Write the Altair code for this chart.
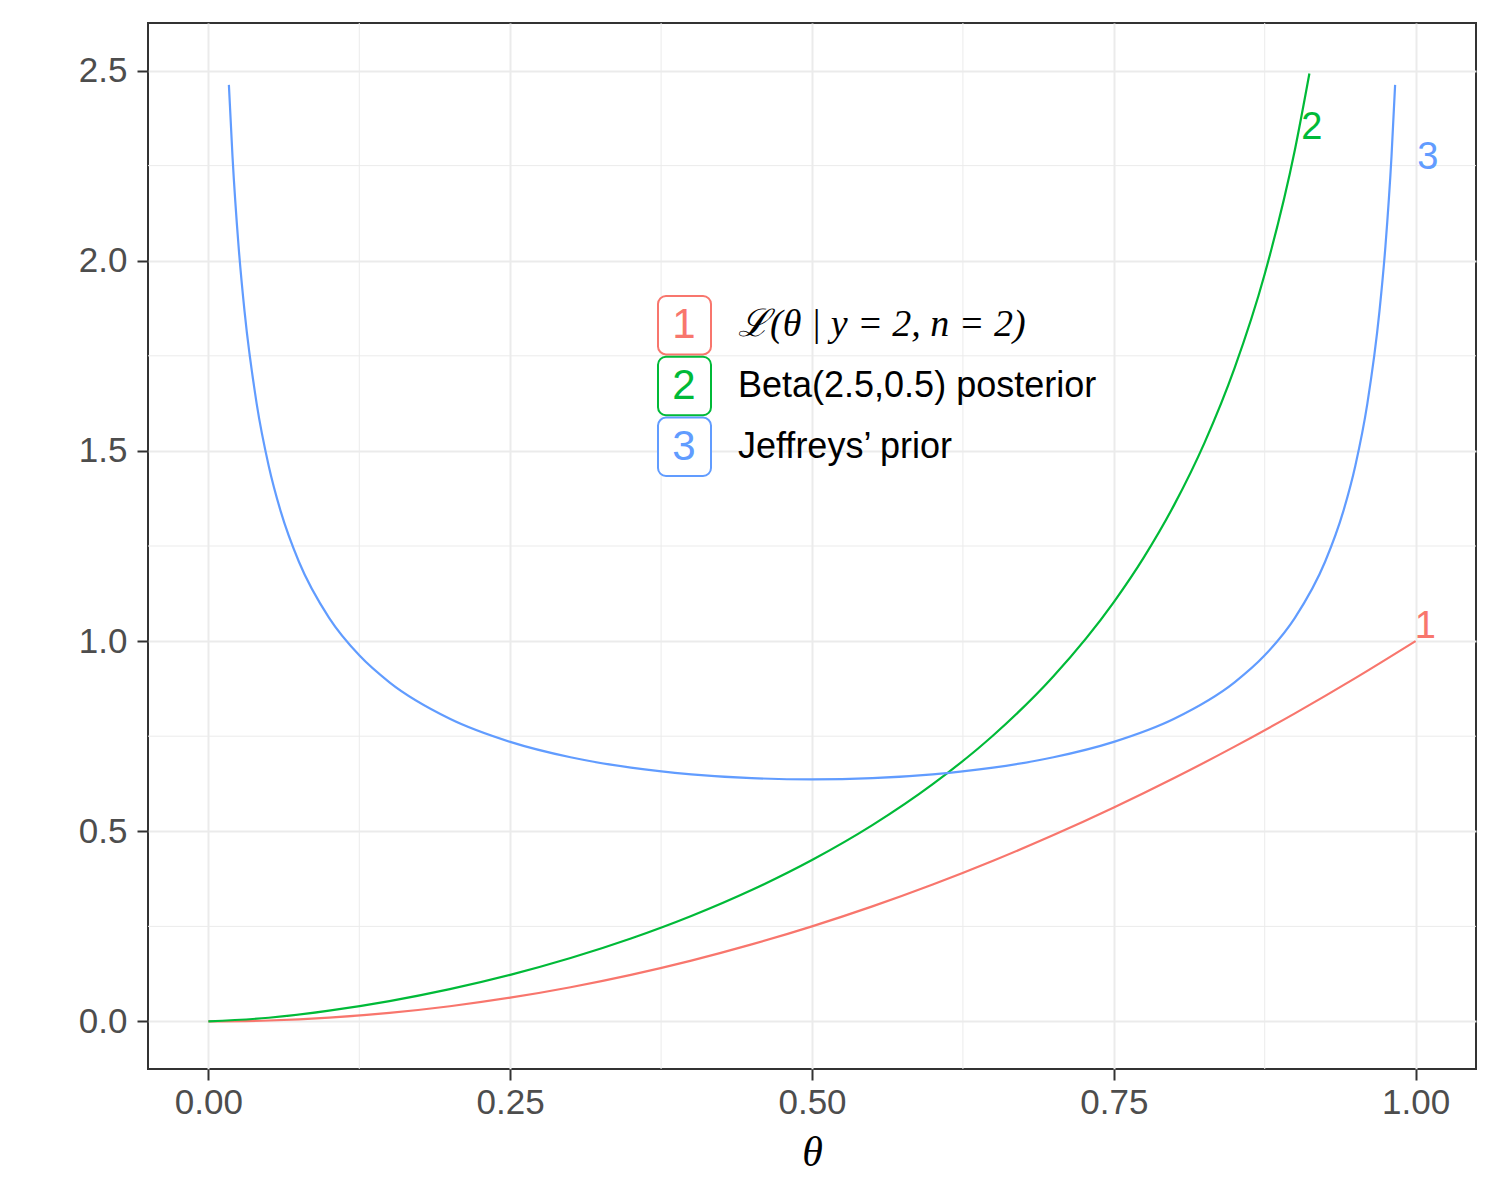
import altair as alt
import pandas as pd

# ---- data ----
lik_theta = [0.0, 0.05, 0.1, 0.15, 0.2, 0.25, 0.3, 0.35, 0.4, 0.45, 0.5,
             0.55, 0.6, 0.65, 0.7, 0.75, 0.8, 0.85, 0.9, 0.95, 1.0]
lik_value = [0.0, 0.0025, 0.01, 0.0225, 0.04, 0.0625, 0.09, 0.1225, 0.16, 0.2025, 0.25,
             0.3025, 0.36, 0.4225, 0.49, 0.5625, 0.64, 0.7225, 0.81, 0.9025, 1.0]

post_theta = [0.0, 0.05, 0.1, 0.15, 0.2, 0.25, 0.3, 0.35, 0.4, 0.45, 0.5, 0.55, 0.6,
              0.65, 0.7, 0.75, 0.775, 0.8, 0.825, 0.85, 0.875, 0.9, 0.912]
post_value = [0.0, 0.0097, 0.0283, 0.0535, 0.0849, 0.1225, 0.1667, 0.2180, 0.2772,
              0.3455, 0.4244, 0.5161, 0.6238, 0.7519, 0.9076, 1.1027, 1.2209, 1.3581,
              1.5205, 1.7175, 1.9651, 2.2918, 2.4921]

jef_theta = [0.017, 0.02, 0.025, 0.03, 0.04, 0.05, 0.06, 0.075, 0.1, 0.125, 0.15, 0.2,
             0.25, 0.3, 0.35, 0.4, 0.45, 0.5, 0.55, 0.6, 0.65, 0.7, 0.75, 0.8, 0.85,
             0.875, 0.9, 0.925, 0.94, 0.95, 0.96, 0.97, 0.975, 0.98, 0.983]
jef_value = [2.4624, 2.2736, 2.0388, 1.8660, 1.6244, 1.4605, 1.3403, 1.2085, 1.0610,
             0.9625, 0.8915, 0.7958, 0.7351, 0.6946, 0.6674, 0.6498, 0.6398, 0.6366,
             0.6398, 0.6498, 0.6674, 0.6946, 0.7351, 0.7958, 0.8915, 0.9625, 1.0610,
             1.2085, 1.3403, 1.4605, 1.6244, 1.8660, 2.0388, 2.2736, 2.4624]

keys = ["1", "2", "3"]
legend_labels = ["\u2112(\u03b8 | y = 2, n = 2)", "Beta(2.5,0.5) posterior", "Jeffreys\u2019 prior"]
colors = ["#F8766D", "#00BA38", "#619CFF"]

end_label_x = [1.008, 0.914, 1.010]
end_label_y = [1.037, 2.350, 2.270]

x_major = [0.0, 0.25, 0.5, 0.75, 1.0]
x_minor = [0.125, 0.375, 0.625, 0.875]
y_major = [0.0, 0.5, 1.0, 1.5, 2.0, 2.5]
y_minor = [0.25, 0.75, 1.25, 1.75, 2.25]

# ---- tables ----
curves = pd.concat([
    pd.DataFrame({"theta": lik_theta, "value": lik_value, "key": "1"}),
    pd.DataFrame({"theta": post_theta, "value": post_value, "key": "2"}),
    pd.DataFrame({"theta": jef_theta, "value": jef_value, "key": "3"}),
], ignore_index=True)
ends = pd.DataFrame({"theta": end_label_x, "value": end_label_y, "key": keys})
leg = pd.DataFrame({"key": keys, "label": legend_labels})
leg_plain = leg.iloc[1:].reset_index(drop=True)
leg_math = leg.iloc[:1].reset_index(drop=True)
xminor_df = pd.DataFrame({"v": x_minor})
yminor_df = pd.DataFrame({"v": y_minor})

xscale = alt.Scale(domain=[-0.05, 1.05], nice=False, zero=False)
yscale = alt.Scale(domain=[-0.125, 2.625], nice=False, zero=False)
cscale = alt.Scale(domain=keys, range=colors)

GRID = "#EBEBEB"

xaxis = alt.Axis(values=x_major, format=".2f", title="\u03b8", grid=True,
                 gridColor=GRID, gridWidth=2, tickColor="#333333", tickWidth=2,
                 tickSize=11, labelPadding=5, labelFontSize=35, labelColor="#4D4D4D",
                 labelFont="Liberation Sans", domain=False, titleFont="Liberation Serif",
                 titleFontStyle="italic", titleFontWeight="normal", titleFontSize=42,
                 titleColor="#000000", titlePadding=12)
yaxis = alt.Axis(values=y_major, format=".1f", title=None, grid=True,
                 gridColor=GRID, gridWidth=2, tickColor="#333333", tickWidth=2,
                 tickSize=11, labelPadding=10, labelFontSize=35, labelColor="#4D4D4D",
                 labelFont="Liberation Sans", domain=False)

xminor = alt.Chart(xminor_df).mark_rule(color=GRID, strokeWidth=1).encode(
    x=alt.X("v:Q", scale=xscale, axis=xaxis))
yminor = alt.Chart(yminor_df).mark_rule(color=GRID, strokeWidth=1).encode(
    y=alt.Y("v:Q", scale=yscale, axis=yaxis))

lines = alt.Chart(curves).mark_line(strokeWidth=2.2, interpolate="monotone").encode(
    x=alt.X("theta:Q", scale=xscale, axis=xaxis),
    y=alt.Y("value:Q", scale=yscale, axis=yaxis),
    color=alt.Color("key:N", scale=cscale, legend=None),
    detail="key:N",
)

end_text = alt.Chart(ends).mark_text(fontSize=38, font="Liberation Sans",
                                     align="center", baseline="middle").encode(
    x=alt.X("theta:Q", scale=xscale, axis=xaxis),
    y=alt.Y("value:Q", scale=yscale, axis=yaxis),
    color=alt.Color("key:N", scale=cscale, legend=None),
    text="key:N",
)

main = alt.layer(xminor, yminor, lines, end_text)

# legend drawn inside the panel
band_y = alt.Y("key:N", scale=alt.Scale(domain=keys, range=[273, 453],
                                         paddingInner=0.04, paddingOuter=0), axis=None)
leg_box = alt.Chart(leg).mark_rect(fill="white", strokeWidth=2, cornerRadius=8).encode(
    x=alt.value(510), x2=alt.value(563), y=band_y,
    stroke=alt.Color("key:N", scale=cscale, legend=None),
)
leg_digit = alt.Chart(leg).mark_text(fontSize=42, font="Liberation Sans",
                                     baseline="middle", align="center").encode(
    x=alt.value(536), y=band_y,
    color=alt.Color("key:N", scale=cscale, legend=None),
    text="key:N",
)
leg_label = alt.Chart(leg_plain).mark_text(fontSize=36, font="Liberation Sans",
                                           baseline="middle", align="left", color="black").encode(
    x=alt.value(590), y=band_y,
    text="label:N",
)
leg_label_math = alt.Chart(leg_math).mark_text(fontSize=38, font="Liberation Serif",
                                               fontStyle="italic", baseline="middle",
                                               align="left", color="black").encode(
    x=alt.value(590), y=band_y,
    text="label:N",
)
legend = alt.layer(leg_box, leg_digit, leg_label, leg_label_math)

chart = alt.layer(main, legend).resolve_scale(y="independent").properties(
    width=1328, height=1046, background="white",
    padding={"left": 70, "top": 14, "right": 10, "bottom": 10},
).configure_view(stroke="#333333", strokeWidth=2)

chart.save("out.html", embed_options={"renderer": "svg", "actions": False})
